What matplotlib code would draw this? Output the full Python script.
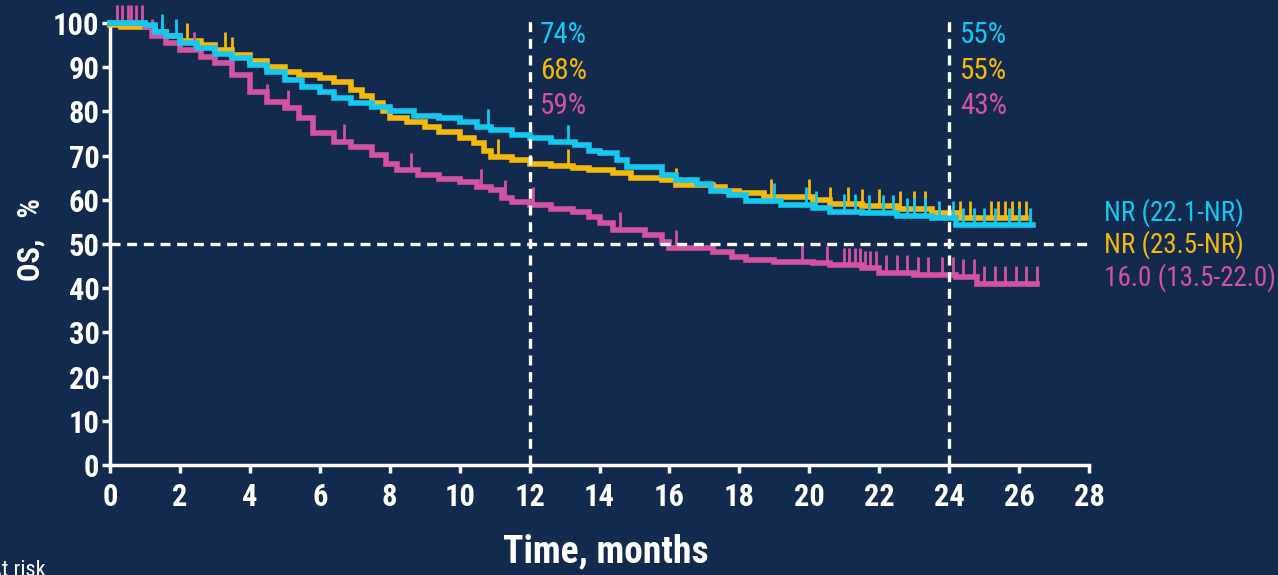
import numpy as np
import matplotlib
matplotlib.use("Agg")
from matplotlib import pyplot as plt

plt.rcParams['font.family'] = ['Roboto Condensed', 'Liberation Sans', 'DejaVu Sans']

BG = '#132a4f'
CYAN = '#14c8f0'
GOLD = '#f5b90a'
MAGENTA = '#d452a2'

# Kaplan-Meier step points (months, OS %)
cyan_t = [0, 1.0, 1.3, 1.6, 2.0, 2.5, 3.0, 3.5, 4.0, 4.5, 5.0, 5.5, 6.0, 6.4, 6.9, 7.5, 8.0, 8.7, 9.4,
          10.0, 10.5, 10.9, 11.5, 12.0, 12.6, 13.3, 13.7, 14.0, 14.5, 14.8, 15.8, 16.2, 16.8, 17.2,
          17.7, 18.2, 19.2, 20.1, 20.6, 21.5, 22.5, 23.5, 24.2, 26.4]
cyan_s = [100, 99.5, 98, 97, 95.5, 94.3, 93, 92, 90.5, 89, 87, 85.6, 84.5, 83, 82, 81, 80, 79, 78.4,
          77.5, 76.5, 75.8, 74.7, 74, 73, 72.4, 71, 70.5, 69, 67.5, 65.6, 64.5, 63.5, 62,
          61, 59.7, 58.8, 58.1, 57.3, 57, 56.3, 55.8, 54.2, 54.2]

gold_t = [0, 0.3, 1.3, 1.6, 2.0, 2.6, 3.0, 3.5, 4.0, 4.5, 5.0, 5.4, 6.0, 6.4, 6.9, 7.2, 7.5, 7.8, 8.0,
          8.5, 9.0, 9.4, 10.0, 10.4, 10.7, 10.9, 11.5, 12.0, 12.6, 13.25, 13.7, 14.4, 14.9, 15.8,
          16.2, 17.25, 17.6, 18.0, 18.7, 20.1, 20.6, 21.5, 22.5, 23.5, 24.3, 26.2]
gold_s = [99.5, 99, 98, 97, 96, 95, 94, 92.8, 91.5, 90.1, 89, 88.2, 87.5, 86.7, 84.8, 83.5, 81.8, 80, 78.5,
          77.5, 76.5, 75.4, 74, 72.8, 71, 69.7, 69, 68.2, 67.6, 67.2, 66.7, 66, 65, 64.5,
          63.3, 63, 62, 61.5, 60.7, 60, 59, 58.5, 58, 57, 55.8, 55.8]

mag_t = [0, 1.0, 1.2, 1.6, 2.0, 2.6, 3.0, 3.5, 4.0, 4.5, 5.0, 5.4, 5.8, 6.4, 6.9, 7.5, 7.9, 8.2, 8.8,
         9.4, 10.0, 10.5, 10.9, 11.2, 11.5, 12.0, 12.6, 13.25, 13.7, 14.0, 14.4, 15.3, 15.8, 16.0,
         17.25, 17.8, 18.2, 19.0, 20.1, 20.6, 21.5, 22.0, 23.0, 24.2, 24.8, 26.5]
mag_s = [100, 99, 97, 95.4, 94, 92.4, 91, 88.2, 84.5, 82.2, 80.8, 78.5, 75.1, 73.1, 72, 70.1, 68, 66.7, 65.5,
         64.8, 64, 63, 62.2, 60.5, 59.6, 58.8, 58, 57.3, 56.2, 54.7, 53.2, 52, 50.5, 49.1,
         48.3, 47, 46.4, 46, 45.6, 45.2, 44.5, 43.5, 43, 42.5, 41, 41]

# censoring times
cyan_cens = [1.5, 1.9, 10.8, 13.1, 19.0, 19.9, 20.2, 21.0, 21.3, 21.7, 22.1, 22.4, 22.8, 23.0, 23.3, 23.7,
             24.1, 24.4, 24.7, 25.0, 25.3, 25.7, 26.0, 26.3]
gold_cens = [2.2, 3.3, 3.5, 11.1, 13.1, 16.2, 18.9, 20.0, 20.6, 21.1, 21.5, 22.0, 22.6, 23.0, 23.3,
             24.3, 24.6, 25.2, 25.4, 25.6, 25.8, 26.0, 26.2]
mag_cens = [0.2, 0.35, 0.5, 0.6, 0.75, 0.9, 1.2, 2.4, 4.5, 5.1, 6.7, 8.6, 10.6, 11.3, 12.1, 14.6, 16.2,
            19.8, 20.5, 21.0, 21.15, 21.3, 21.45, 21.6, 21.75, 21.9, 22.2, 22.5, 22.8, 23.1, 23.4,
            23.8, 24.1, 24.4, 24.7, 25.0, 25.3, 25.6, 25.9, 26.2, 26.5]

landmarks = [12, 24]
pct_12 = ['74%', '68%', '59%']
pct_24 = ['55%', '55%', '43%']
medians = ['NR (22.1-NR)', 'NR (23.5-NR)', '16.0 (13.5-22.0)']

fig = plt.figure(figsize=(12.78, 5.75), dpi=100, facecolor=BG)
ax = fig.add_axes([0.0861, 0.1913, 0.7660, 0.7687], facecolor=BG)


def surv_at(times, surv, c):
    i = np.searchsorted(times, c, side='right') - 1
    return surv[max(i, 0)]


groups = [(gold_t, gold_s, gold_cens, GOLD), (mag_t, mag_s, mag_cens, MAGENTA), (cyan_t, cyan_s, cyan_cens, CYAN)]
for t, s, cens, col in groups:
    ax.step(t, s, where='post', color=col, lw=4, solid_joinstyle='miter', clip_on=False, zorder=3)
    ys = [surv_at(t, s, c) for c in cens]
    ax.vlines(cens, ys, np.array(ys) + 4, color=col, lw=2, clip_on=False, zorder=3)

# reference lines
for x in landmarks:
    ax.plot([x, x], [0, 101.5], color='white', ls=(0, (3, 2)), lw=2.4, clip_on=False, zorder=4)
ax.plot([0, 28], [50, 50], color='white', ls=(0, (3, 2)), lw=2.4, clip_on=False, zorder=4)

ax.set_xlim(0, 28)
ax.set_ylim(0, 100)
ax.set_xticks(range(0, 29, 2))
ax.set_yticks(range(0, 101, 10))
for sp in ['top', 'right']:
    ax.spines[sp].set_visible(False)
for sp in ['left', 'bottom']:
    ax.spines[sp].set_color('white')
    ax.spines[sp].set_linewidth(2.5)
ax.tick_params(colors='white', width=2.5, length=6, labelsize=22)
ax.tick_params(axis='y', pad=1.5)
ax.tick_params(axis='x', pad=6)
for lab in ax.get_xticklabels() + ax.get_yticklabels():
    lab.set_fontweight('bold')

cols = [CYAN, GOLD, MAGENTA]
ypos = [97.3, 89.1, 81.2]
for i in range(3):
    ax.text(12.3, ypos[i], pct_12[i], color=cols[i], fontsize=21, va='center', ha='left')
    ax.text(24.31, ypos[i], pct_24[i], color=cols[i], fontsize=21, va='center', ha='left')

ymed = [57.2, 49.8, 42.3]
for i in range(3):
    ax.text(28.43, ymed[i], medians[i], color=cols[i], fontsize=19.5, va='center', ha='left', clip_on=False)

fig.text(0.024, 0.583, 'OS,   %', rotation=90, color='white', fontsize=22, fontweight='bold',
         ha='center', va='center')
fig.text(0.474, 0.04, 'Time, months', color='white', fontsize=27, fontweight='bold',
         ha='center', va='center')
fig.text(0.036, -0.01, 'At risk', color='white', fontsize=16, ha='right', va='bottom')

fig.savefig('out.png', dpi=100, facecolor=BG)
